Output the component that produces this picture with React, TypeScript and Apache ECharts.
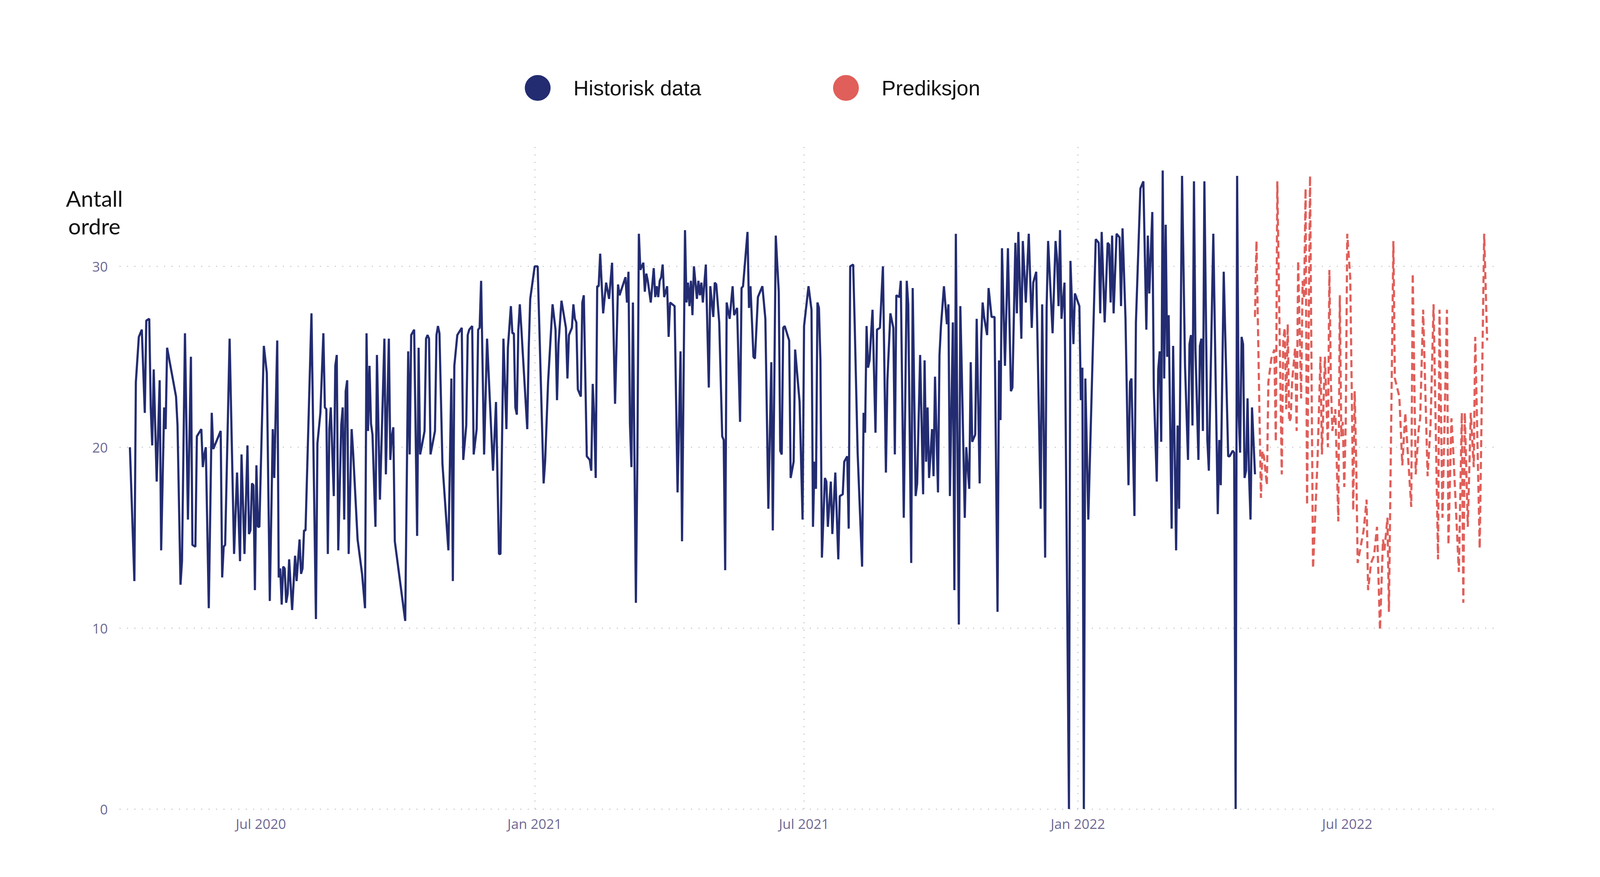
import React, { useEffect, useRef } from "react";
import * as echarts from "echarts";

// x values are days counted from BASE_DATE
const BASE_DATE = "2020-07-01";
const AXIS_START = "2020-03-28";
const AXIS_END = "2022-10-09";
const X_TICKS = ["2020-07-01", "2021-01-01", "2021-07-01", "2022-01-01", "2022-07-01"];
const MONTHS = ["Jan", "Feb", "Mar", "Apr", "May", "Jun", "Jul", "Aug", "Sep", "Oct", "Nov", "Dec"];
const Y_MIN = 0;
const Y_MAX = 36.6;
const Y_STEP = 10;
const SERIES_NAMES = ["Historisk data", "Prediksjon"];
const Y_TITLE = "Antall\nordre";

const historisk: [number, number][] = [
  [-88, 20.0], [-85, 12.6], [-84, 23.6], [-82, 26.1], [-80, 26.5], [-78, 21.9], [-77, 27.0], [-75, 27.1], [-74, 22.2], [-73, 20.1],
  [-72, 24.3], [-70, 18.1], [-68, 23.7], [-67, 14.3], [-65, 22.2], [-64, 21.0], [-63, 25.5], [-57, 22.8], [-56, 21.2], [-54, 12.4],
  [-53, 13.7], [-51, 26.3], [-49, 16.0], [-47, 25.0], [-46, 14.6], [-44, 14.5], [-43, 20.6], [-40, 21.0], [-39, 18.9], [-38, 19.6],
  [-37, 20.0], [-35, 11.1], [-33, 21.9], [-32, 19.9], [-27, 20.9], [-26, 12.8], [-25, 14.5], [-24, 14.6], [-21, 26.0], [-18, 14.1],
  [-16, 18.6], [-14, 13.7], [-13, 19.6], [-11, 14.1], [-9, 20.1], [-8, 15.2], [-7, 15.4], [-6, 18.0], [-5, 17.9], [-4, 12.1],
  [-3, 19.0], [-2, 15.6], [-1, 15.6],
  [2, 25.6], [4, 24.1], [6, 11.5], [8, 21.0], [9, 18.3], [11, 25.9], [12, 12.8], [13, 13.3], [14, 11.3], [15, 13.4],
  [16, 13.3], [17, 11.4], [18, 11.9], [19, 13.8], [21, 11.0], [23, 14.0], [24, 12.6], [26, 14.9], [27, 13.0], [28, 13.3],
  [29, 15.4], [30, 15.4], [34, 27.4], [37, 10.5], [38, 20.2], [40, 21.9], [42, 26.3], [43, 22.2], [44, 22.1], [45, 14.1],
  [46, 21.0], [47, 22.2], [49, 17.3], [50, 24.5], [51, 25.1], [52, 14.3], [54, 21.2], [55, 22.2], [56, 16.0], [57, 23.1],
  [58, 23.7], [59, 14.1], [61, 21.0], [62, 19.7], [65, 14.9], [68, 13.0], [70, 11.1], [71, 26.3], [72, 20.9], [73, 24.5],
  [74, 21.3], [75, 20.7], [77, 15.6], [78, 25.1], [80, 17.1], [81, 20.0], [83, 26.0], [84, 18.5], [86, 26.0], [87, 19.3],
  [88, 20.6], [89, 21.1], [90, 14.8], [97, 10.4],
  [99, 25.3], [100, 19.6], [101, 26.2], [103, 26.5], [105, 15.1], [106, 25.5], [107, 19.6], [108, 20.0], [110, 20.9], [111, 26.0],
  [112, 26.2], [113, 26.0], [114, 19.6], [117, 20.9], [118, 26.2], [119, 26.7], [120, 26.3], [122, 19.1], [126, 14.3], [128, 23.8],
  [129, 12.6], [130, 24.5], [132, 26.2], [135, 26.6], [136, 19.3], [138, 21.2], [139, 26.2], [140, 26.5], [142, 26.7], [143, 19.6],
  [145, 21.0], [146, 26.5], [147, 26.6], [148, 29.2], [150, 19.6], [152, 26.0], [156, 18.7], [158, 22.5], [160, 14.1], [161, 14.1],
  [163, 26.0], [165, 21.0], [166, 25.5], [168, 27.8], [169, 26.3], [170, 26.3], [171, 22.2], [172, 21.8], [173, 26.5], [174, 27.9],
  [175, 26.6], [179, 21.0], [180, 25.5], [181, 28.2], [184, 30.0], [186, 30.0],
  [190, 18.0], [191, 19.2], [193, 23.6], [196, 27.9], [198, 26.5], [199, 22.6], [200, 25.7], [202, 28.1], [205, 26.6], [206, 23.8],
  [207, 26.2], [209, 26.6], [210, 27.9], [211, 27.1], [212, 26.9], [213, 23.2], [215, 22.8], [216, 28.0], [217, 28.4], [219, 19.5],
  [221, 19.3], [222, 18.7], [223, 23.5], [224, 21.6], [225, 18.3], [226, 28.9], [227, 28.9], [228, 30.7], [230, 27.4], [232, 29.1],
  [234, 28.2], [236, 30.2], [238, 22.4], [240, 29.0], [241, 28.4], [245, 29.4], [246, 28.0], [247, 29.7], [248, 21.3], [249, 18.9],
  [250, 28.0], [252, 11.4], [253, 19.5], [254, 31.8], [255, 29.8], [257, 30.2], [258, 28.6], [259, 29.6], [260, 29.2], [262, 28.0],
  [264, 29.9], [265, 28.3], [266, 28.9], [267, 28.3], [268, 29.2], [269, 29.4], [270, 30.1], [271, 28.3], [273, 28.9], [274, 26.1],
  [275, 28.0], [278, 27.8], [280, 17.5],
  [282, 25.3], [283, 14.8], [285, 32.0], [286, 28.0], [287, 29.1], [288, 27.8], [289, 29.2], [290, 27.3], [291, 30.0], [293, 28.2],
  [294, 29.2], [295, 28.4], [296, 29.1], [297, 28.0], [299, 30.1], [301, 23.3], [302, 28.9], [304, 27.2], [305, 29.1], [306, 29.0],
  [308, 26.9], [310, 20.6], [311, 20.4], [312, 13.2], [313, 28.0], [315, 27.1], [317, 28.9], [318, 27.3], [320, 27.7], [322, 21.4],
  [323, 28.8], [324, 28.9], [327, 31.9], [328, 27.7], [329, 28.9], [331, 25.0], [332, 24.9], [334, 28.3], [337, 28.9], [339, 27.1],
  [341, 16.6], [343, 24.7], [344, 15.4], [346, 31.7], [347, 30.1], [348, 28.6], [349, 19.8], [350, 19.6], [351, 26.6], [352, 26.7],
  [355, 25.9], [356, 18.3], [358, 19.2], [359, 25.4], [362, 22.5], [364, 16.0], [365, 26.7], [368, 28.9], [370, 27.6], [371, 15.6],
  [372, 19.2], [373, 17.7],
  [374, 28.0], [375, 27.7], [376, 24.8], [377, 13.9], [379, 18.3], [380, 18.1], [381, 15.6], [383, 18.1], [384, 15.2], [386, 18.6],
  [388, 13.8], [389, 17.3], [391, 17.4], [392, 19.2], [394, 19.5], [395, 15.5], [396, 30.0], [398, 30.1], [399, 26.9], [401, 19.7],
  [404, 13.4], [405, 21.9], [406, 20.8], [407, 26.7], [408, 24.4], [409, 24.8], [411, 27.6], [413, 20.8], [414, 26.5], [416, 26.6],
  [418, 30.0], [420, 18.6], [421, 23.7], [423, 27.4], [425, 26.6], [426, 19.6], [427, 28.4], [429, 28.3], [430, 29.2], [432, 16.1],
  [434, 29.2], [435, 27.9], [437, 13.6], [438, 28.8], [440, 17.3], [441, 18.0], [443, 25.1], [445, 17.4], [446, 24.8], [447, 19.2],
  [448, 22.2], [449, 18.3], [451, 21.0], [452, 18.4], [453, 23.9], [455, 17.5], [456, 25.1], [457, 26.7], [459, 28.9], [461, 26.8],
  [462, 27.9], [463, 17.3], [465, 26.9],
  [466, 12.1], [467, 31.8], [469, 10.2], [470, 27.8], [471, 24.1], [473, 16.1], [474, 20.0], [476, 17.7], [477, 24.7], [478, 20.3],
  [480, 20.7], [481, 27.1], [483, 18.0], [484, 25.9], [485, 28.0], [486, 27.2], [488, 26.2], [489, 28.8], [491, 27.2], [493, 27.2],
  [495, 10.9], [496, 24.8], [497, 21.5], [498, 31.0], [500, 24.5], [502, 31.0], [504, 23.1], [505, 23.3], [507, 31.3], [508, 27.4],
  [509, 31.9], [511, 26.0], [512, 31.4], [514, 28.0], [516, 31.8], [518, 26.6], [519, 29.1], [521, 29.7], [524, 16.6], [525, 27.9],
  [527, 13.9], [528, 27.7], [529, 31.4], [532, 26.3], [534, 31.4], [535, 30.4], [536, 27.8], [537, 32.0], [538, 27.1], [540, 29.1],
  [543, 0], [544, 30.3], [546, 25.7], [547, 28.5], [550, 27.8], [551, 22.6], [552, 24.4], [553, 0], [554, 23.8], [556, 16.0],
  [561, 31.5], [563, 31.3], [564, 27.4], [565, 31.9], [567, 26.9], [569, 31.3], [570, 31.2], [571, 28.0], [572, 31.7], [573, 27.4],
  [575, 31.8], [577, 31.6], [578, 27.8], [579, 32.1], [581, 27.1], [583, 17.9], [584, 23.6], [585, 23.8], [587, 16.2], [588, 26.9],
  [591, 34.3], [593, 34.7], [595, 26.5], [596, 31.7], [597, 28.5], [599, 33.0], [600, 23.3], [602, 18.1], [603, 24.3], [604, 25.3],
  [605, 20.3], [606, 35.3], [607, 23.8], [608, 32.3], [609, 25.0], [610, 27.3], [612, 15.5], [613, 25.6], [615, 14.3], [616, 21.2],
  [617, 16.6], [619, 35.0], [621, 24.5], [623, 19.3], [624, 25.7], [625, 26.2], [626, 21.2], [627, 34.7], [628, 25.4], [630, 19.3],
  [631, 25.6], [632, 26.0], [633, 20.9], [634, 34.7], [636, 20.4], [637, 18.7], [640, 31.8], [643, 16.3], [644, 20.4], [645, 17.9],
  [647, 29.7],
  [650, 19.5], [651, 19.5], [653, 19.8], [654, 19.7], [655, 0], [656, 35.0], [657, 21.9], [658, 19.7], [659, 26.1], [660, 25.7],
  [661, 18.3], [662, 18.7], [663, 22.7], [664, 18.5], [665, 16.0], [666, 22.2], [668, 18.5],
];

const prediksjon: [number, number][] = [
  [668, 27.2], [669, 31.4], [672, 17.2], [673, 19.8], [674, 19.5], [676, 17.9], [677, 23.6], [679, 24.9], [681, 25.4], [682, 20.3],
  [683, 34.7], [686, 18.5], [687, 25.9], [688, 26.6], [689, 22.1], [690, 26.8], [691, 21.4], [692, 21.6], [693, 23.7], [695, 25.5],
  [696, 20.9], [697, 30.3], [699, 22.7], [700, 29.2], [701, 28.2], [702, 34.3], [703, 16.8], [705, 35.0], [707, 13.3], [710, 19.2],
  [712, 25.0], [713, 19.6], [715, 25.0], [717, 20.0], [718, 29.8], [719, 23.6], [720, 20.9], [722, 22.1], [724, 15.9], [725, 28.4],
  [726, 20.6], [727, 21.4], [728, 17.8], [729, 21.4], [730, 31.8], [732, 29.4], [733, 23.3], [734, 16.5], [735, 23.1], [736, 19.2],
  [737, 13.6], [741, 15.4], [743, 17.1], [744, 12.1], [746, 13.6], [748, 14.0], [750, 15.6], [752, 9.9], [754, 14.9], [755, 14.3],
  [757, 16.1], [758, 10.9], [761, 31.4], [762, 23.8], [765, 22.8], [767, 19.0], [769, 21.9], [773, 16.7], [774, 29.6], [776, 18.5],
  [778, 21.0], [779, 21.6], [781, 27.6], [784, 18.4], [786, 21.3], [788, 27.9], [791, 13.8], [792, 27.6], [794, 16.1], [797, 27.6],
  [798, 14.6], [800, 21.6], [801, 20.2], [805, 13.1], [807, 21.9], [808, 11.4], [809, 21.9], [811, 15.6], [813, 21.9], [815, 18.9],
  [816, 26.1], [819, 14.4], [822, 31.8], [824, 25.9],
];

const DAY_MS = 86400000;
const toTime = (s: string) => Date.parse(s + "T00:00:00Z");
const dayOf = (s: string) => Math.round((toTime(s) - toTime(BASE_DATE)) / DAY_MS);

// layout of the reference canvas (4526 x 2244); scaled to the actual size at runtime
const REF_W = 4526;
const REF_H = 2244;

function buildOption(w: number, h: number) {
  const sx = w / REF_W;
  const sy = h / REF_H;
  const f = Math.sqrt(sx * sy);
  const base = toTime(BASE_DATE);
  const ticks = X_TICKS.map(dayOf);
  const labelColor = "#6E6893";
  const labelFont = "'Segoe UI', 'Open Sans', sans-serif";
  const gridLine = { color: "#cfcfd8", width: 3, type: [3, 16] };
  const blue = "#232C71";
  const red = "#E05F5A";
  const iconSize = Math.round(69 * f);
  const legendFont = Math.round(57 * f);
  const legendCenters = [1521 * sx, 2393 * sx];
  const legendTextStarts = [1622 * sx, 2494 * sx];

  const legends = SERIES_NAMES.map((name, i) => {
    const left = legendCenters[i] - iconSize / 2;
    const pad = Math.max(0, legendTextStarts[i] - (left + iconSize + 5));
    return {
      data: [name],
      left,
      top: 225 * sy - iconSize / 2,
      padding: 0,
      icon: "circle",
      itemWidth: iconSize,
      itemHeight: iconSize,
      itemStyle: { borderWidth: 0 },
      selectedMode: false,
      textStyle: {
        color: "#111111",
        fontSize: legendFont,
        fontFamily: "'Liberation Sans', Arial, sans-serif",
        padding: [0, 0, 0, pad],
      },
    };
  });

  return {
    animation: false,
    backgroundColor: "#ffffff",
    grid: { left: 338 * sx, right: 294 * sx, top: 376 * sy, bottom: 174 * sy, containLabel: false },
    legend: legends,
    graphic: [
      {
        type: "text",
        x: 267 * sx,
        y: 542 * sy,
        silent: true,
        style: {
          text: Y_TITLE,
          fill: "#111111",
          fontSize: Math.round(60 * f),
          fontFamily: "Lato, 'DejaVu Sans', sans-serif",
          align: "center",
          verticalAlign: "middle",
          lineHeight: Math.round(71 * sy),
        },
      },
    ],
    xAxis: {
      type: "value",
      min: dayOf(AXIS_START),
      max: dayOf(AXIS_END),
      axisLine: { show: false },
      axisTick: { show: false, customValues: ticks },
      splitLine: { show: true, showMinLine: false, showMaxLine: false, lineStyle: gridLine },
      axisLabel: {
        customValues: ticks,
        color: labelColor,
        fontSize: Math.round(37 * f),
        fontFamily: labelFont,
        margin: 20 * sy,
        formatter: (v: number) => {
          const d = new Date(base + v * DAY_MS);
          return MONTHS[d.getUTCMonth()] + " " + d.getUTCFullYear();
        },
      },
    },
    yAxis: {
      type: "value",
      min: Y_MIN,
      max: Y_MAX,
      interval: Y_STEP,
      axisLine: { show: false },
      axisTick: { show: false },
      splitLine: { show: true, showMaxLine: false, lineStyle: gridLine },
      axisLabel: {
        color: labelColor,
        fontSize: Math.round(37 * f),
        fontFamily: labelFont,
        margin: 33 * sx,
        showMaxLabel: false,
      },
    },
    series: [
      {
        name: SERIES_NAMES[0],
        type: "line",
        data: historisk,
        showSymbol: false,
        symbol: "none",
        color: blue,
        itemStyle: { color: blue },
        lineStyle: { color: blue, width: 5.5 },
        emphasis: { disabled: true },
      },
      {
        name: SERIES_NAMES[1],
        type: "line",
        data: prediksjon,
        showSymbol: false,
        symbol: "none",
        color: red,
        itemStyle: { color: red },
        lineStyle: { color: red, width: 5.5, type: [18, 10] },
        emphasis: { disabled: true },
      },
    ],
  };
}

export default function App() {
  const ref = useRef<HTMLDivElement>(null);

  useEffect(() => {
    const el = ref.current;
    if (!el) return;
    const chart = echarts.init(el, null, { renderer: "svg" });
    chart.setOption(buildOption(chart.getWidth(), chart.getHeight()));

    const onResize = () => {
      chart.resize();
      chart.setOption(buildOption(chart.getWidth(), chart.getHeight()), true);
    };
    window.addEventListener("resize", onResize);
    return () => {
      window.removeEventListener("resize", onResize);
      chart.dispose();
    };
  }, []);

  return (
    <div
      ref={ref}
      style={{ position: "fixed", left: 0, top: 0, width: "100vw", height: "100vh", background: "#ffffff" }}
    />
  );
}
